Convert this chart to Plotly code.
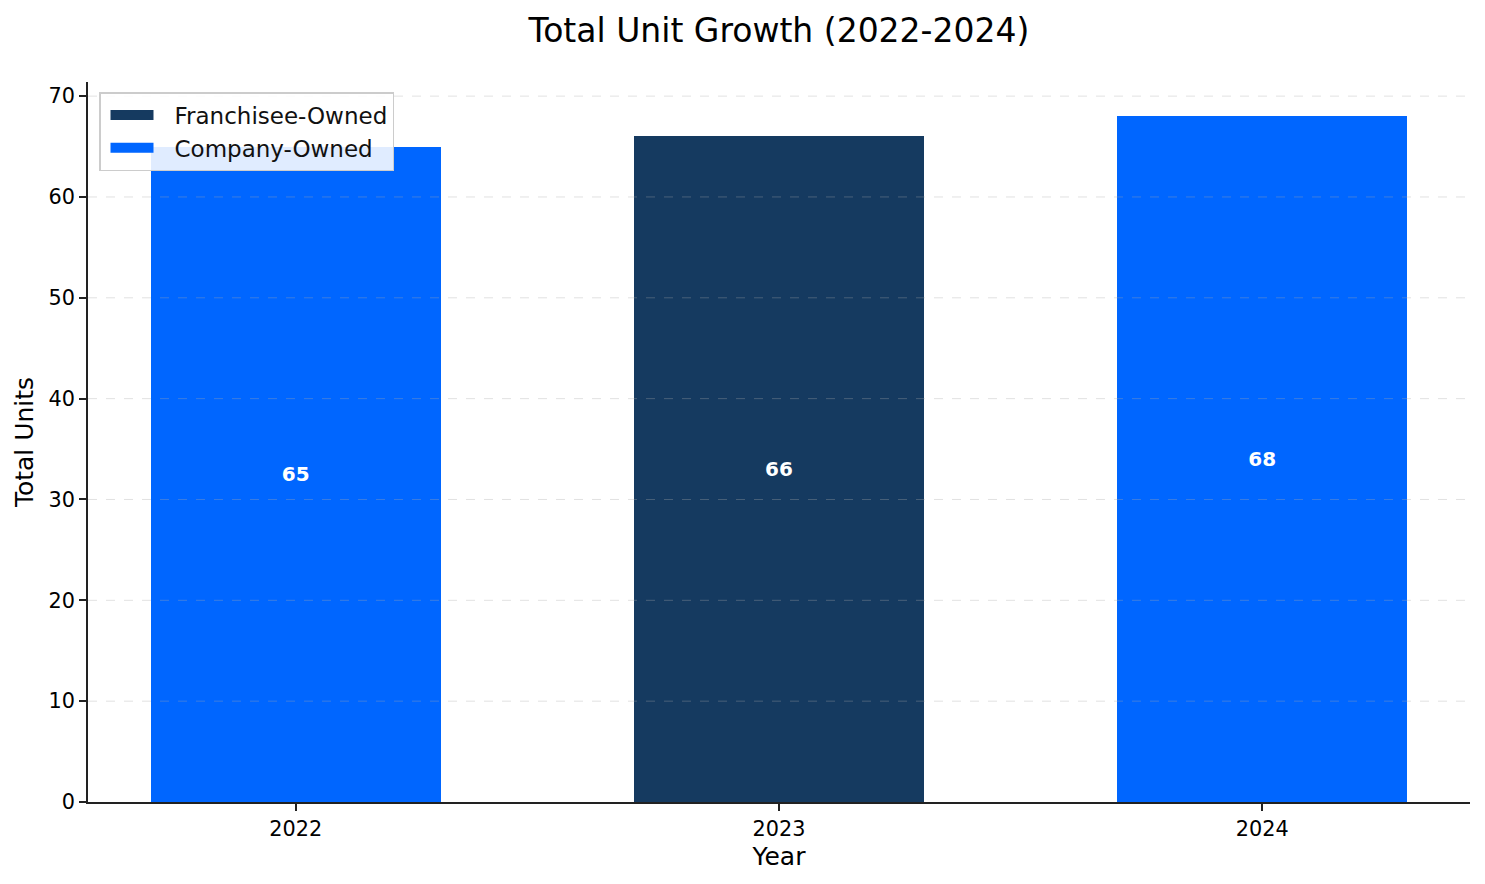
import plotly.graph_objects as go

years = ["2022", "2023", "2024"]
franchisee_owned = [0, 66, 0]
company_owned = [65, 0, 68]
y_ticks = [0, 10, 20, 30, 40, 50, 60, 70]

series = [
    ("Franchisee-Owned", franchisee_owned, "#153a60"),
    ("Company-Owned", company_owned, "#0066ff"),
]

totals = [f + c for f, c in zip(franchisee_owned, company_owned)]
FONT = "DejaVu Sans"

fig = go.Figure()
for name, vals, color in series:
    fig.add_trace(go.Bar(
        x=years, y=vals, name=name, showlegend=False,
        marker=dict(color=color, line=dict(width=0)), width=0.6,
        text=[str(t) if v else "" for v, t in zip(vals, totals)],
        textposition="inside", insidetextanchor="middle", textangle=0,
        textfont=dict(family=FONT, size=20, color="white", weight="bold"),
    ))
# legend entries drawn as wide swatches
for name, vals, color in series:
    fig.add_trace(go.Scatter(
        x=[None], y=[None], mode="lines", name=name,
        line=dict(color=color, width=13, dash="0px,5px,43px,60px"), showlegend=True,
    ))

grid_style = dict(color="rgba(170,170,170,0.35)", width=1, dash="dash")
shapes = []
for v in y_ticks[1:]:
    shapes.append(dict(type="line", xref="paper", yref="y", x0=0, x1=1, y0=v, y1=v,
                       line=grid_style, layer="above"))
for yr in years:
    shapes.append(dict(type="line", xref="x", yref="paper", x0=yr, x1=yr, y0=0, y1=1,
                       line=grid_style, layer="above"))

fig.update_layout(
    width=1477, height=876,
    barmode="stack",
    paper_bgcolor="white", plot_bgcolor="white",
    margin=dict(l=80, r=15, t=74, b=82, autoexpand=False),
    font=dict(family=FONT, color="black"),
    title=dict(text="Total Unit Growth (2022-2024)", x=0.5, xref="paper",
               y=1 - 22 / 876, yanchor="middle", yref="container",
               font=dict(family=FONT, size=33, color="black")),
    legend=dict(x=11 / 1382, y=1 - 10 / 720, xanchor="left", yanchor="top",
                bgcolor="rgba(255,255,255,0.88)", bordercolor="#cccccc", borderwidth=1.5,
                font=dict(family=FONT, size=23, color="#111"), traceorder="normal",
                itemwidth=64, tracegroupgap=0),
    shapes=shapes,
    xaxis=dict(type="category", range=[-0.43, 2.43], showgrid=False,
               showline=True, linecolor="#222", linewidth=1.7, mirror=False,
               ticks="outside", ticklen=7, tickwidth=1.7, tickcolor="#222",
               tickfont=dict(family=FONT, size=20.8, color="black"),
               title=dict(text="Year", font=dict(family=FONT, size=25, color="black"), standoff=8),
               automargin=False, zeroline=False),
    yaxis=dict(range=[0, 71.4], tickvals=y_ticks, showgrid=False,
               showline=True, linecolor="#222", linewidth=1.7,
               ticks="outside", ticklen=7, tickwidth=1.7, tickcolor="#222",
               tickfont=dict(family=FONT, size=20.8, color="black"),
               title=dict(text="Total Units", font=dict(family=FONT, size=25, color="black"), standoff=8),
               automargin=False, zeroline=False),
    bargap=0.4,
)

fig.write_html("out.html")
